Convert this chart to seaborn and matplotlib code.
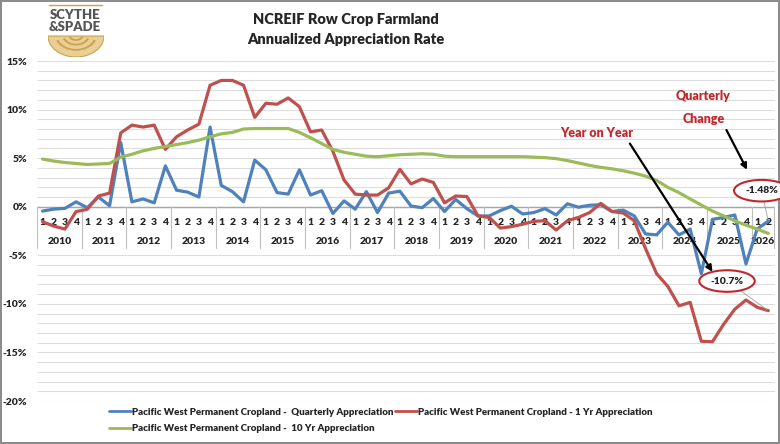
"""NCREIF row crop farmland appreciation rates, Pacific West permanent cropland."""
import pandas as pd
import seaborn as sns
import matplotlib.pyplot as plt
from matplotlib.lines import Line2D
from matplotlib.patches import Wedge

# Quarterly data 2010 Q1 .. 2026 Q2 (in %)
years = [str(y) for y in range(2010, 2027)]
quarter_labels = ["1", "2", "3", "4"] * 16 + ["1", "2"]

quarterly = [
    -0.45, -0.25, -0.17, 0.5,
    -0.1, 1.0, 0.1, 6.6,
    0.5, 0.8, 0.4, 4.2,
    1.7, 1.5, 1.0, 8.2,
    2.2, 1.55, 0.5, 4.8,
    3.8, 1.45, 1.3, 3.8,
    1.2, 1.65, -0.7, 0.6,
    -0.25, 1.55, -0.6, 1.4,
    1.6, 0.07, -0.1, 0.85,
    -0.5, 0.75, -0.2, -0.95,
    -0.95, -0.4, 0.05, -0.75,
    -0.6, -0.2, -0.85, 0.3,
    -0.05, 0.15, 0.2, -0.5,
    -0.35, -0.95, -2.8, -2.9,
    -1.6, -2.9, -2.3, -6.9,
    -1.3, -1.1, -0.85, -5.9,
    -2.3, -1.48,
]
one_year = [
    -1.55, -2.0, -2.3, -0.5,
    -0.27, 1.1, 1.4, 7.6,
    8.4, 8.2, 8.4, 5.9,
    7.2, 7.9, 8.5, 12.5,
    13.0, 13.0, 12.5, 9.2,
    10.65, 10.55, 11.2, 10.3,
    7.7, 7.9, 5.7, 2.75,
    1.3, 1.2, 1.2, 1.95,
    3.85, 2.35, 2.85, 2.5,
    0.4, 1.1, 1.05, -0.95,
    -1.1, -2.2, -2.05, -1.8,
    -1.5, -1.45, -2.4, -1.45,
    -1.1, -0.6, 0.35, -0.5,
    -0.65, -1.45, -4.3, -6.9,
    -8.2, -10.2, -9.85, -13.85,
    -13.9, -12.1, -10.55, -9.6,
    -10.35, -10.7,
]
ten_year = [
    4.9, 4.7, 4.55, 4.45,
    4.35, 4.4, 4.45, 5.1,
    5.4, 5.75, 6.0, 6.2,
    6.4, 6.6, 6.85, 7.2,
    7.5, 7.65, 8.0, 8.05,
    8.05, 8.05, 8.05, 7.65,
    7.1, 6.5, 5.9, 5.6,
    5.4, 5.2, 5.15, 5.25,
    5.35, 5.4, 5.45, 5.4,
    5.2, 5.15, 5.15, 5.15,
    5.15, 5.15, 5.15, 5.15,
    5.1, 5.05, 4.95, 4.75,
    4.5, 4.25, 4.05, 3.9,
    3.7, 3.45, 3.15, 2.7,
    2.0, 1.45, 0.8, 0.17,
    -0.45, -0.95, -1.45, -1.9,
    -2.3, -2.75,
]

series_names = [
    "Pacific West Permanent Cropland -  Quarterly Appreciation",
    "Pacific West Permanent Cropland - 1 Yr Appreciation",
    "Pacific West Permanent Cropland -  10 Yr Appreciation",
]
colors = ["#4f81bd", "#c0504d", "#9bbb59"]

df = pd.DataFrame({"idx": range(len(quarterly)),
                   series_names[0]: quarterly,
                   series_names[1]: one_year,
                   series_names[2]: ten_year})
long = df.melt(id_vars="idx", var_name="series", value_name="value")

sns.set_style("white")
plt.rcParams["font.family"] = ["Lato", "DejaVu Sans"]

fig = plt.figure(figsize=(7.8, 4.44), dpi=100)
ax = fig.add_axes([37 / 780, 1 - 401 / 444, 738 / 780, 340 / 444])

# horizontal gridlines every 1%, none behind the category labels
grid_levels = [v for v in range(-20, 16) if not -5 < v < 0]
ax.hlines(grid_levels, -0.5, 65.6, colors="#dedede", linewidth=0.8, zorder=0)
ax.axhline(0, color="#a6a6a6", linewidth=1.0, zorder=1)

sns.lineplot(data=long, x="idx", y="value", hue="series",
             hue_order=series_names, palette=colors,
             linewidth=2.3, legend=False, ax=ax, zorder=3)

ax.set_xlim(-0.5, 65.6)
ax.set_ylim(-20, 15)
ax.set_xticks([])
ax.set_yticks(range(-20, 16, 5))
ax.set_yticklabels([f"{v}%" for v in range(-20, 16, 5)],
                   fontsize=7.5, fontweight="heavy")
ax.tick_params(axis="y", length=0, pad=7)
ax.set_xlabel("")
ax.set_ylabel("")
for s in ax.spines.values():
    s.set_visible(False)

# category axis drawn at the 0% line: quarters, then years
for i, q in enumerate(quarter_labels):
    ax.text(i, -1.6, q, ha="center", va="center", fontsize=7.5,
            fontweight="heavy", zorder=2)
for k, yr in enumerate(years):
    n = 2 if yr == "2026" else 4
    ax.text(k * 4 + (n - 1) / 2, -3.6, yr, ha="center", va="center",
            fontsize=7.5, fontweight="heavy", zorder=2)
for b in [k * 4 - 0.5 for k in range(17)] + [65.5]:
    ax.plot([b, b], [0, -4.25], color="#bfbfbf", linewidth=0.8, zorder=1)

# annotations
red_txt = "#c0282d"
ax.text(59.2, 11.4, "Quarterly", color=red_txt, fontsize=9,
        fontweight="heavy", ha="center", va="center")
ax.text(59.2, 9.0, "Change", color=red_txt, fontsize=9,
        fontweight="heavy", ha="center", va="center")
ax.text(49.6, 7.6, "Year on Year", color=red_txt, fontsize=9,
        fontweight="heavy", ha="center", va="center")

ax.annotate("", xy=(63.1, 3.8), xytext=(61.25, 7.9),
            arrowprops=dict(arrowstyle="-|>", color="black", lw=1.6,
                            mutation_scale=9, shrinkA=0, shrinkB=0))
ax.annotate("", xy=(60.0, -6.7), xytext=(52.6, 6.5),
            arrowprops=dict(arrowstyle="-|>", color="black", lw=1.6,
                            mutation_scale=9, shrinkA=0, shrinkB=0))

ell = dict(boxstyle="ellipse,pad=0.3", fc="white", ec=red_txt, lw=1.5)
ax.annotate(f"{quarterly[-1]:.2f}%", xy=(65, quarterly[-1]),
            xytext=(64.4, 1.65), ha="center", va="center", fontsize=7.5,
            fontweight="heavy", bbox=ell, zorder=5,
            arrowprops=dict(arrowstyle="-", color="#a0a0a0", lw=0.6,
                            shrinkA=0, shrinkB=1))
ax.annotate(f"{one_year[-1]:.1f}%", xy=(65, one_year[-1]),
            xytext=(61.3, -7.65), ha="center", va="center", fontsize=7.5,
            fontweight="heavy", bbox=ell, zorder=5,
            arrowprops=dict(arrowstyle="-", color="#a0a0a0", lw=0.6,
                            shrinkA=0, shrinkB=1))

# title
fig.text(346 / 780, 1 - 20 / 444, "NCREIF Row Crop Farmland", ha="center",
         va="center", fontsize=10.5, fontweight="heavy")
fig.text(346 / 780, 1 - 40 / 444, "Annualized Appreciation Rate",
         ha="center", va="center", fontsize=10.5, fontweight="heavy")

# logo
fig.text(75 / 780, 1 - 15 / 444, "SCYTHE", ha="center", va="center",
         fontsize=9.5, fontweight="heavy", color="#555555")
fig.text(75 / 780, 1 - 27 / 444, "&SPADE", ha="center", va="center",
         fontsize=9.5, fontweight="heavy", color="#555555")
fig.add_artist(Line2D([49 / 780, 102 / 780], [1 - 5 / 444, 1 - 5 / 444],
                      color="#c9a24f", lw=1))
lax = fig.add_axes([48 / 780, 1 - 57 / 444, 56 / 780, 22 / 444])
lax.set_xlim(-1, 1)
lax.set_ylim(-1, 0.05)
lax.axis("off")
lax.add_patch(Wedge((0, 0), 1, 180, 360, fc="#e9cf95", ec="#c9a24f", lw=0.8))
for r in (0.75, 0.5, 0.28):
    lax.add_patch(Wedge((0, 0.05), r, 200, 340, width=0.08,
                        fc="#c9a24f", ec="none"))

# legend
handles = [Line2D([], [], color=c, lw=2) for c in colors]
order = [0, 2, 1]
fig.legend([handles[i] for i in order], [series_names[i] for i in order],
           loc="upper left", bbox_to_anchor=(100 / 780, 1 - 399 / 444),
           ncol=2, frameon=False,
           prop={"weight": "heavy", "size": 7.0},
           handlelength=2.3, handletextpad=0.1, columnspacing=0.1,
           labelspacing=0.75)

fig.patch.set_edgecolor("#8c8c8c")
fig.patch.set_linewidth(1.5)
fig.savefig("out.png", dpi=100)
plt.close(fig)
